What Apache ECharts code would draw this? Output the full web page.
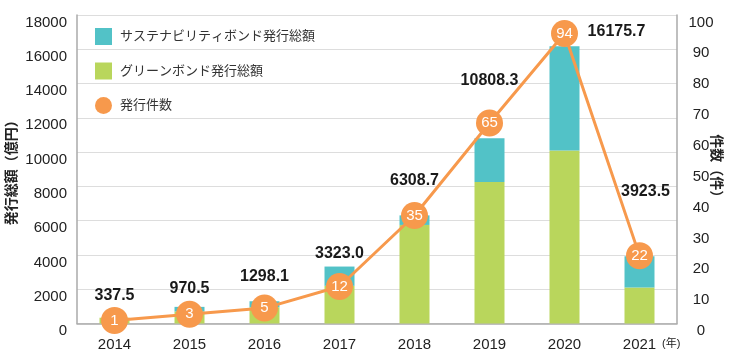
<!DOCTYPE html>
<html>
<head>
<meta charset="utf-8">
<script src="https://cdn.jsdelivr.net/npm/echarts@6/dist/echarts.min.js"></script>
<style>
html,body{margin:0;padding:0;background:#fff;}
#c{width:730px;height:364px;}
</style>
</head>
<body>
<div id="c"></div>
<script>
var years = ['2014','2015','2016','2017','2018','2019','2020','2021'];
var greenValues = [337.5, 700, 950, 2200, 5750, 8250, 10100, 2100];
var sustainValues = [0, 270.5, 348.1, 1123.0, 558.7, 2558.3, 6075.7, 1823.5];
var totalLabels = ['337.5','970.5','1298.1','3323.0','6308.7','10808.3','16175.7','3923.5'];
var countValues = [1, 3, 5, 12, 35, 65, 94, 22];
var leftTicks = {min: 0, max: 18000, interval: 2000};
var rightTicks = {min: 0, max: 100, interval: 10};
var labelOffsets = [[0,-14],[0,-10],[0,-17],[0,-5],[0,-27],[0,-50],[52,-7],[6,-57]];

var NAME_SUST = 'サステナビリティボンド発行総額';
var NAME_GREEN = 'グリーンボンド発行総額';
var NAME_COUNT = '発行件数';
var FONT = "'Liberation Sans', 'Noto Sans CJK JP', sans-serif";
var TEAL = '#52c2c7';
var GREEN = '#b9d65c';
var ORANGE = '#f7994c';
function plain(v) { return String(v); }

var chart = echarts.init(document.getElementById('c'));
chart.setOption({
  animation: false,
  textStyle: {fontFamily: FONT},
  grid: {left: 77, right: 53, top: 15, bottom: 40.5, containLabel: false, outerBoundsMode: 'none'},
  legend: {
    orient: 'vertical', left: 90, top: 23,
    itemWidth: 17, itemHeight: 17, itemGap: 17.5,
    textStyle: {fontSize: 13, color: '#333', fontFamily: FONT, padding: [0,0,0,3]},
    data: [
      {name: NAME_SUST, icon: 'rect'},
      {name: NAME_GREEN, icon: 'rect'},
      {name: NAME_COUNT, icon: 'circle'}
    ]
  },
  xAxis: {
    type: 'category', data: years,
    axisLine: {lineStyle: {color: '#aaa', width: 1.5}},
    axisTick: {inside: true, length: 6, lineStyle: {color: '#aaa', width: 1.5}},
    axisLabel: {fontSize: 15, color: '#222', margin: 14, fontFamily: FONT}
  },
  yAxis: [
    {
      type: 'value', min: leftTicks.min, max: leftTicks.max, interval: leftTicks.interval,
      name: '発行総額（億円）', nameLocation: 'middle', nameGap: 58, nameRotate: 90, nameMoveOverlap: false,
      nameTextStyle: {fontSize: 14, fontWeight: 'bold', color: '#222', fontFamily: FONT},
      axisLine: {show: true, lineStyle: {color: '#aaa', width: 1.5}},
      axisTick: {show: false},
      splitLine: {lineStyle: {color: '#ddd', width: 1}},
      axisLabel: {fontSize: 15, color: '#222', margin: 10, verticalAlign: 'top', fontFamily: FONT, formatter: plain}
    },
    {
      type: 'value', position: 'right', min: rightTicks.min, max: rightTicks.max, interval: rightTicks.interval,
      name: '件数（件）', nameLocation: 'middle', nameGap: 32, nameRotate: -90, nameMoveOverlap: false,
      nameTextStyle: {fontSize: 14, fontWeight: 'bold', color: '#222', fontFamily: FONT},
      axisLine: {show: true, lineStyle: {color: '#aaa', width: 1.5}},
      axisTick: {show: false},
      splitLine: {show: false},
      axisLabel: {fontSize: 15, color: '#222', margin: 24, align: 'center', verticalAlign: 'top', fontFamily: FONT, formatter: plain}
    }
  ],
  graphic: [{
    type: 'text', left: 662, top: 338,
    style: {text: '(年)', fontSize: 11, fill: '#222', fontFamily: FONT}
  }],
  series: [
    {
      name: NAME_GREEN, type: 'bar', stack: 'total', barWidth: 30,
      itemStyle: {color: GREEN}, data: greenValues
    },
    {
      name: NAME_SUST, type: 'bar', stack: 'total', barWidth: 30,
      itemStyle: {color: TEAL},
      data: sustainValues.map(function (v, i) {
        return {
          value: v,
          label: {
            show: true, position: 'top', distance: 0, offset: labelOffsets[i],
            formatter: totalLabels[i],
            fontSize: 16, fontWeight: 'bold', color: '#1a1a1a', fontFamily: FONT
          }
        };
      })
    },
    {
      name: NAME_COUNT, type: 'line', yAxisIndex: 1, z: 10,
      data: countValues,
      symbol: 'circle', symbolSize: 27,
      lineStyle: {color: ORANGE, width: 3},
      itemStyle: {color: ORANGE},
      label: {show: true, position: 'inside', color: '#fff', fontSize: 15, fontWeight: 500, fontFamily: FONT}
    }
  ]
});
</script>
</body>
</html>
